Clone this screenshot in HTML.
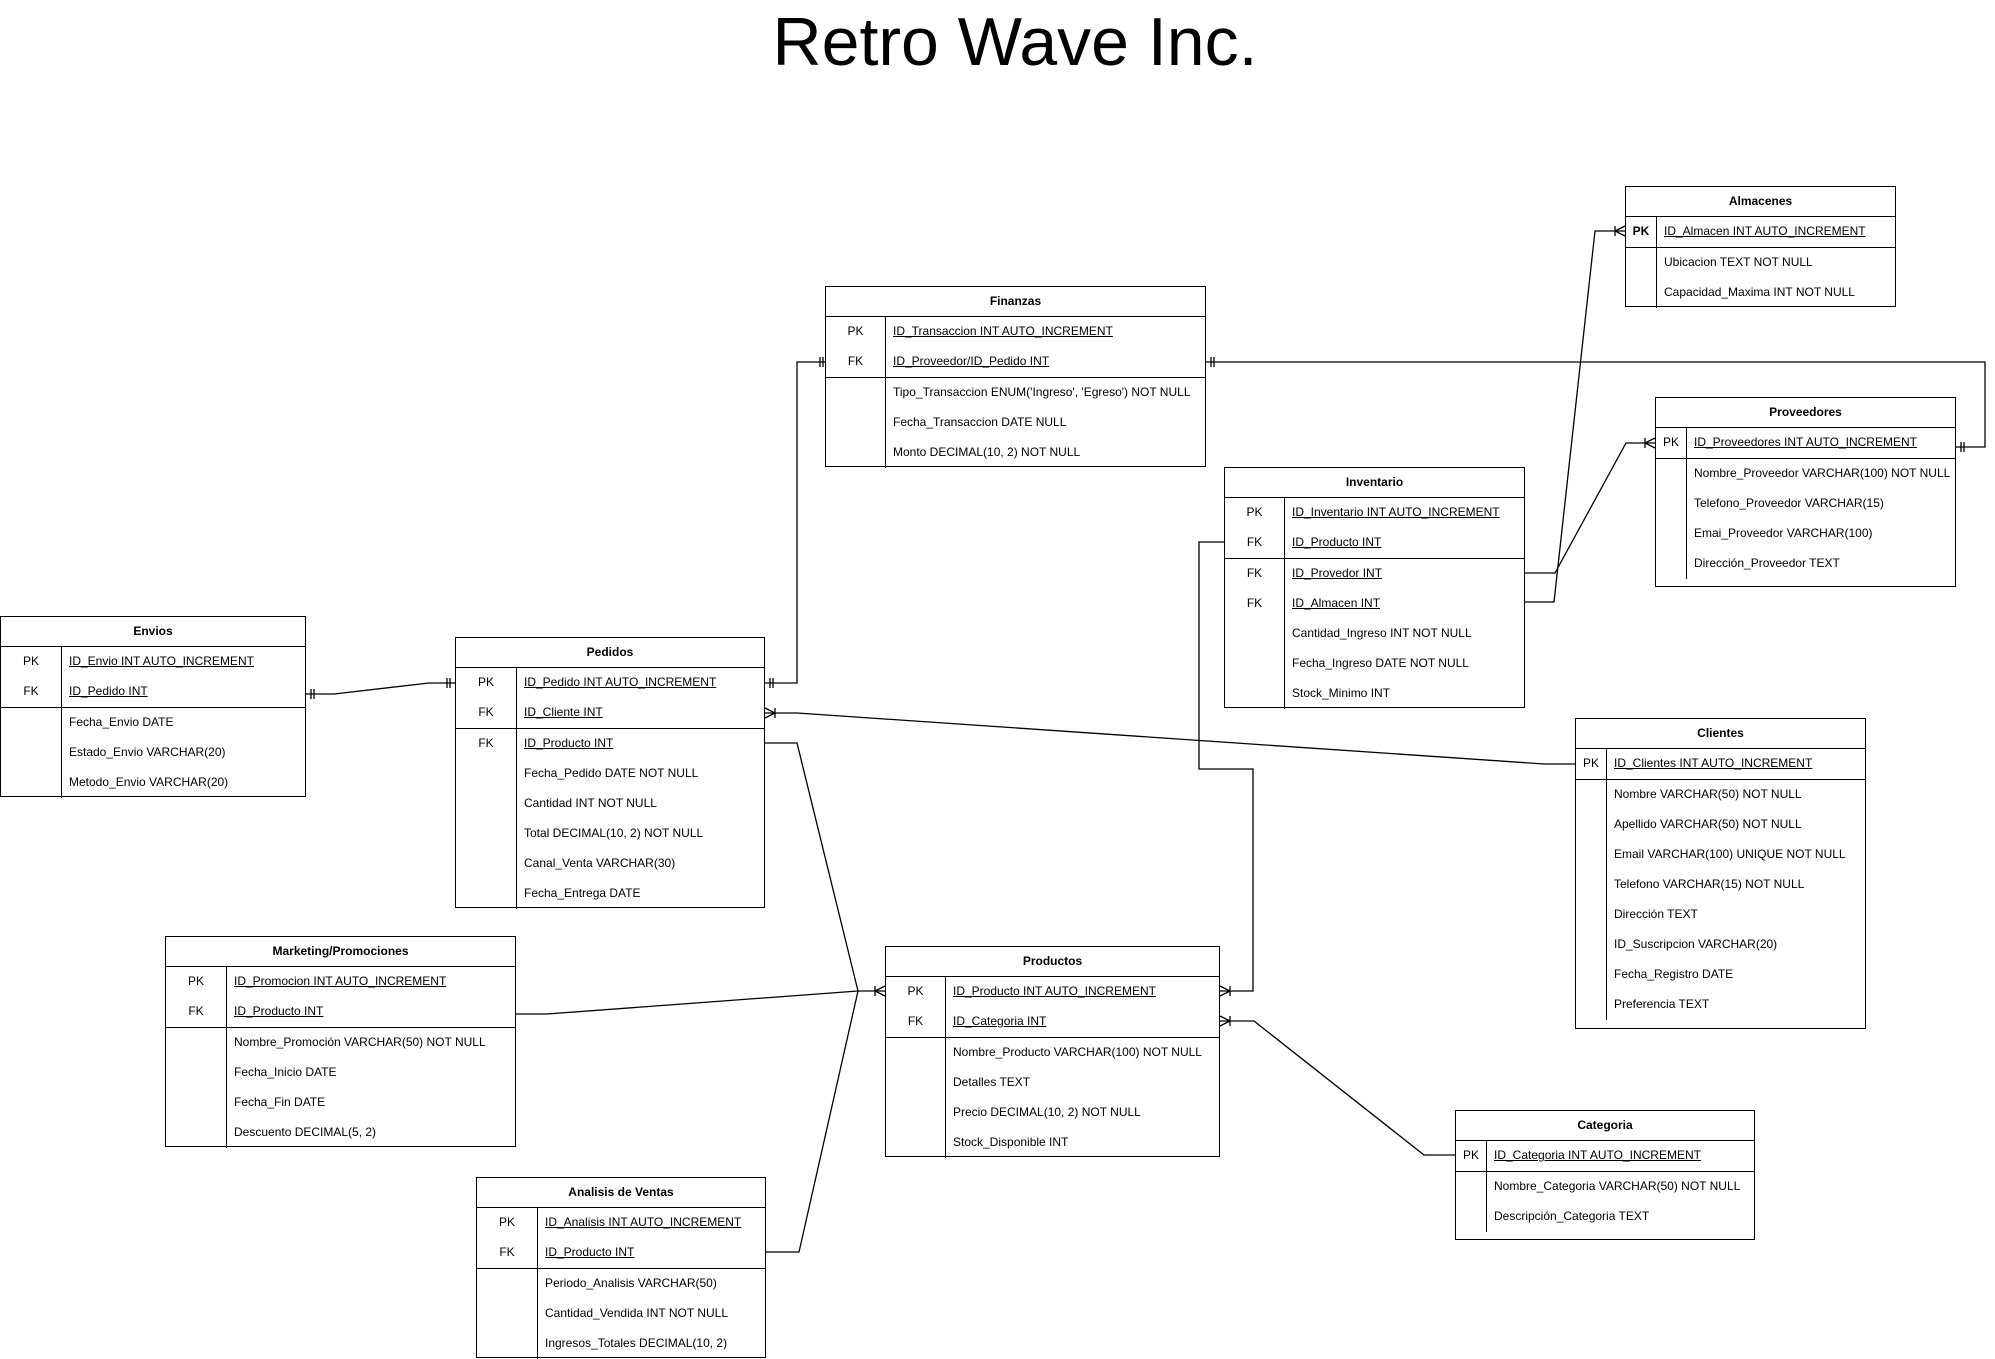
<!DOCTYPE html>
<html><head><meta charset="utf-8"><style>
body{margin:0;width:1995px;height:1357px;background:#fff;position:relative;overflow:hidden;font-family:"Liberation Sans",Arial,sans-serif;color:#000}
.title{position:absolute;left:0;width:2030px;top:2px;text-align:center;font-size:68px;line-height:80px}
.t{position:absolute;border:1.3px solid #000;background:#fff;box-sizing:border-box;font-size:12px}
.h{height:30px;line-height:29px;text-align:center;border-bottom:1.3px solid #000;box-sizing:border-box;font-weight:bold}
.s{display:flex;border-bottom:1.3px solid #000}
.s:last-child{border-bottom:none}
.k{flex:none;border-right:1.3px solid #000;box-sizing:border-box}
.k div,.f div{height:30px;line-height:28px}
.k div{text-align:center}
.f div{padding-left:7px;white-space:nowrap}
.u{text-decoration:underline}
svg{position:absolute;left:0;top:0}
</style></head><body>
<div class="title">Retro Wave Inc.</div>
<svg width="1995" height="1357" fill="none" stroke="#000" stroke-width="1.3">
<polyline points="306,694 334,694 429,683 455,683"/>
<polyline points="765,683 797,683 797,362 828,362"/>
<polyline points="1206,362 1985,362 1985,447 1956,447"/>
<polyline points="765,713 797,713 1544,764 1575,764"/>
<polyline points="765,743 797,743 858,991 885,991"/>
<polyline points="516,1014 547,1014 858,991"/>
<polyline points="766,1252 799,1252 858,991"/>
<polyline points="1224,542 1199,542 1199,769 1253,769 1253,991 1220,991"/>
<polyline points="1220,1021 1254,1021 1424,1155 1455,1155"/>
<polyline points="1525,573 1555,573 1626,443 1655,443"/>
<polyline points="1525,602 1554,602 1595,231 1625,231"/>
<path d="M311,689v10M314,689v10 M447,678v10M450,678v10 M770,678v10M773,678v10 M820,357v10M823,357v10 M1211,357v10M1214,357v10 M1961,442v10M1964,442v10"/>
<path d="M765,708l10,5l-10,5 M775,708v10"/>
<path d="M885,986l-10,5l10,5 M875,986v10"/>
<path d="M1220,986l10,5l-10,5 M1230,986v10"/>
<path d="M1220,1016l10,5l-10,5 M1230,1016v10"/>
<path d="M1655,438l-10,5l10,5 M1645,438v10"/>
<path d="M1625,226l-10,5l10,5 M1615,226v10"/>
</svg>

<div class="t" style="left:0;top:616px;width:306px;height:181px">
<div class="h">Envios</div>
<div class="s"><div class="k" style="width:61px"><div>PK</div><div>FK</div></div><div class="f"><div class="u">ID_Envio INT AUTO_INCREMENT</div><div class="u">ID_Pedido INT</div></div></div>
<div class="s"><div class="k" style="width:61px;height:90px"></div><div class="f"><div>Fecha_Envio DATE</div><div>Estado_Envio VARCHAR(20)</div><div>Metodo_Envio VARCHAR(20)</div></div></div>
</div>

<div class="t" style="left:455px;top:637px;width:310px;height:271px">
<div class="h">Pedidos</div>
<div class="s"><div class="k" style="width:61px"><div>PK</div><div>FK</div></div><div class="f"><div class="u">ID_Pedido INT AUTO_INCREMENT</div><div class="u">ID_Cliente INT</div></div></div>
<div class="s"><div class="k" style="width:61px"><div>FK</div><div></div><div></div><div></div><div></div><div></div></div><div class="f"><div class="u">ID_Producto INT</div><div>Fecha_Pedido DATE NOT NULL</div><div>Cantidad INT NOT NULL</div><div>Total DECIMAL(10, 2) NOT NULL</div><div>Canal_Venta VARCHAR(30)</div><div>Fecha_Entrega DATE</div></div></div>
</div>

<div class="t" style="left:825px;top:286px;width:381px;height:181px">
<div class="h">Finanzas</div>
<div class="s"><div class="k" style="width:60px"><div>PK</div><div>FK</div></div><div class="f"><div class="u">ID_Transaccion INT AUTO_INCREMENT</div><div class="u">ID_Proveedor/ID_Pedido INT</div></div></div>
<div class="s"><div class="k" style="width:60px;height:90px"></div><div class="f"><div>Tipo_Transaccion ENUM('Ingreso', 'Egreso') NOT NULL</div><div>Fecha_Transaccion DATE NULL</div><div>Monto DECIMAL(10, 2) NOT NULL</div></div></div>
</div>

<div class="t" style="left:1625px;top:186px;width:271px;height:121px">
<div class="h">Almacenes</div>
<div class="s"><div class="k" style="width:31px"><div style="font-weight:bold">PK</div></div><div class="f"><div class="u">ID_Almacen INT AUTO_INCREMENT</div></div></div>
<div class="s"><div class="k" style="width:31px;height:60px"></div><div class="f"><div>Ubicacion TEXT NOT NULL</div><div>Capacidad_Maxima INT NOT NULL</div></div></div>
</div>

<div class="t" style="left:1655px;top:397px;width:301px;height:190px">
<div class="h">Proveedores</div>
<div class="s"><div class="k" style="width:31px"><div>PK</div></div><div class="f"><div class="u">ID_Proveedores INT AUTO_INCREMENT</div></div></div>
<div class="s"><div class="k" style="width:31px;height:120px"></div><div class="f"><div>Nombre_Proveedor VARCHAR(100) NOT NULL</div><div>Telefono_Proveedor VARCHAR(15)</div><div>Emai_Proveedor VARCHAR(100)</div><div>Dirección_Proveedor TEXT</div></div></div>
</div>

<div class="t" style="left:1224px;top:467px;width:301px;height:241px">
<div class="h">Inventario</div>
<div class="s"><div class="k" style="width:60px"><div>PK</div><div>FK</div></div><div class="f"><div class="u">ID_Inventario INT AUTO_INCREMENT</div><div class="u">ID_Producto INT</div></div></div>
<div class="s"><div class="k" style="width:60px"><div>FK</div><div>FK</div><div></div><div></div><div></div></div><div class="f"><div class="u">ID_Provedor INT</div><div class="u">ID_Almacen INT</div><div>Cantidad_Ingreso INT NOT NULL</div><div>Fecha_Ingreso DATE NOT NULL</div><div>Stock_Minimo INT</div></div></div>
</div>

<div class="t" style="left:1575px;top:718px;width:291px;height:311px">
<div class="h">Clientes</div>
<div class="s"><div class="k" style="width:31px"><div>PK</div></div><div class="f"><div class="u">ID_Clientes INT AUTO_INCREMENT</div></div></div>
<div class="s"><div class="k" style="width:31px;height:240px"></div><div class="f"><div>Nombre VARCHAR(50) NOT NULL</div><div>Apellido VARCHAR(50) NOT NULL</div><div>Email VARCHAR(100) UNIQUE NOT NULL</div><div>Telefono VARCHAR(15) NOT NULL</div><div>Dirección TEXT</div><div>ID_Suscripcion VARCHAR(20)</div><div>Fecha_Registro DATE</div><div>Preferencia TEXT</div></div></div>
</div>

<div class="t" style="left:885px;top:946px;width:335px;height:211px">
<div class="h">Productos</div>
<div class="s"><div class="k" style="width:60px"><div>PK</div><div>FK</div></div><div class="f"><div class="u">ID_Producto INT AUTO_INCREMENT</div><div class="u">ID_Categoria INT</div></div></div>
<div class="s"><div class="k" style="width:60px;height:120px"></div><div class="f"><div>Nombre_Producto VARCHAR(100) NOT NULL</div><div>Detalles TEXT</div><div>Precio DECIMAL(10, 2) NOT NULL</div><div>Stock_Disponible INT</div></div></div>
</div>

<div class="t" style="left:1455px;top:1110px;width:300px;height:130px">
<div class="h">Categoria</div>
<div class="s"><div class="k" style="width:31px"><div>PK</div></div><div class="f"><div class="u">ID_Categoria INT AUTO_INCREMENT</div></div></div>
<div class="s"><div class="k" style="width:31px;height:60px"></div><div class="f"><div>Nombre_Categoria VARCHAR(50) NOT NULL</div><div>Descripción_Categoria TEXT</div></div></div>
</div>

<div class="t" style="left:165px;top:936px;width:351px;height:211px">
<div class="h">Marketing/Promociones</div>
<div class="s"><div class="k" style="width:61px"><div>PK</div><div>FK</div></div><div class="f"><div class="u">ID_Promocion INT AUTO_INCREMENT</div><div class="u">ID_Producto INT</div></div></div>
<div class="s"><div class="k" style="width:61px;height:120px"></div><div class="f"><div>Nombre_Promoción VARCHAR(50) NOT NULL</div><div>Fecha_Inicio DATE</div><div>Fecha_Fin DATE</div><div>Descuento DECIMAL(5, 2)</div></div></div>
</div>

<div class="t" style="left:476px;top:1177px;width:290px;height:181px">
<div class="h">Analisis de Ventas</div>
<div class="s"><div class="k" style="width:61px"><div>PK</div><div>FK</div></div><div class="f"><div class="u">ID_Analisis INT AUTO_INCREMENT</div><div class="u">ID_Producto INT </div></div></div>
<div class="s"><div class="k" style="width:61px;height:90px"></div><div class="f"><div>Periodo_Analisis VARCHAR(50)</div><div>Cantidad_Vendida INT NOT NULL</div><div>Ingresos_Totales DECIMAL(10, 2)</div></div></div>
</div>
</body></html>
